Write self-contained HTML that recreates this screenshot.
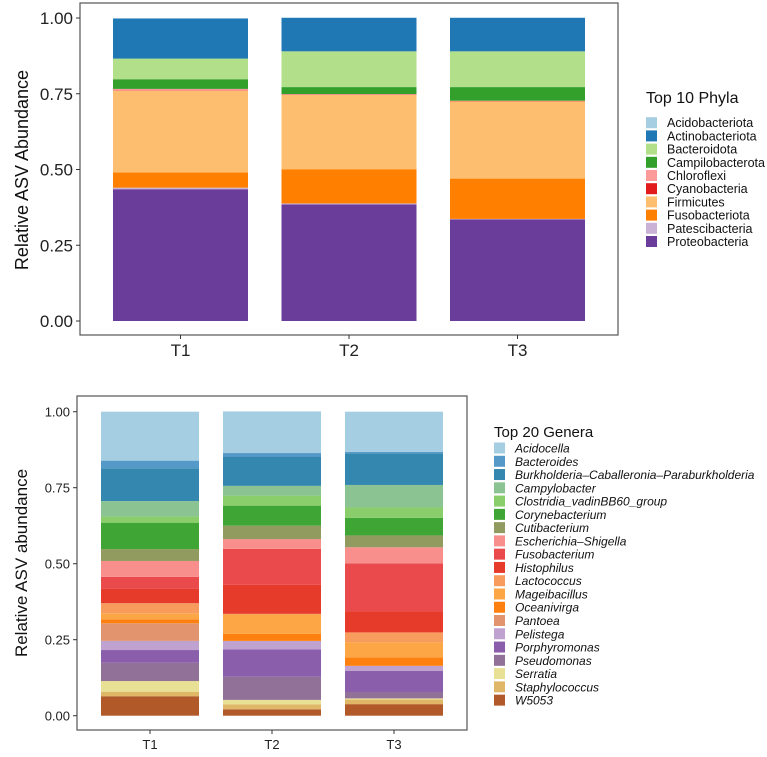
<!DOCTYPE html>
<html><head><meta charset="utf-8"><style>
body{margin:0;background:#fff;font-family:"Liberation Sans",sans-serif;}
svg text{font-family:"Liberation Sans",sans-serif;}
</style></head><body>
<svg id="c" width="767" height="752" xmlns="http://www.w3.org/2000/svg"></svg>
<script>
const samples=["T1","T2","T3"];
const phyla=["Acidobacteriota","Actinobacteriota","Bacteroidota","Campilobacterota","Chloroflexi","Cyanobacteria","Firmicutes","Fusobacteriota","Patescibacteria","Proteobacteria"];
const phylaColors=["#a6cee3","#1f78b4","#b2df8a","#33a02c","#fb9a99","#e31a1c","#fdbf6f","#ff7f00","#cab2d6","#6a3d9a"];
// values per sample (order matches phyla)
const phylaT1=[0.002,0.132,0.068,0.032,0.005,0.001,0.270,0.050,0.005,0.435];
const phylaT2=[0.002,0.110,0.118,0.023,0.002,0.001,0.245,0.113,0.003,0.385];
const phylaT3=[0.002,0.110,0.118,0.045,0.001,0.001,0.255,0.133,0.002,0.335];
const genera=["Acidocella","Bacteroides","Burkholderia\u2013Caballeronia\u2013Paraburkholderia","Campylobacter","Clostridia_vadinBB60_group","Corynebacterium","Cutibacterium","Escherichia\u2013Shigella","Fusobacterium","Histophilus","Lactococcus","Mageibacillus","Oceanivirga","Pantoea","Pelistega","Porphyromonas","Pseudomonas","Serratia","Staphylococcus","W5053"];
const generaColors=["#a6cee3","#5599c8","#3488b0","#8cc393","#8ace6b","#3fa535","#919b5f","#f88f8d","#ea4a4c","#e63b2b","#f89c5e","#fda645","#fe800f","#e2946f","#c0a2d1","#8a5eab","#927198","#e8e095","#dfb767","#b15928"];
const generaT1=[0.161,0.025,0.108,0.051,0.020,0.087,0.039,0.052,0.040,0.047,0.033,0.020,0.013,0.058,0.030,0.042,0.060,0.035,0.015,0.064];
const generaT2=[0.137,0.011,0.097,0.032,0.033,0.066,0.044,0.032,0.118,0.096,0.002,0.064,0.023,0.000,0.028,0.090,0.076,0.015,0.016,0.021];
const generaT3=[0.132,0.005,0.104,0.074,0.034,0.058,0.039,0.053,0.157,0.070,0.032,0.050,0.028,0.000,0.017,0.069,0.021,0.004,0.015,0.038];
const yTicks=[0,0.25,0.5,0.75,1];
const yTickLabels=["0.00","0.25","0.50","0.75","1.00"];

const NS="http://www.w3.org/2000/svg";
const svg=document.getElementById('c');
function mk(tag,attrs,parent){const e=document.createElementNS(NS,tag);for(const k in attrs)e.setAttribute(k,attrs[k]);(parent||svg).appendChild(e);return e;}

function panel(cfg){
  const g=mk('g',{});
  
  
  const y=v=>cfg.y0-(cfg.y0-cfg.y1)*v;
  const x=i=>cfg.xc0+i*cfg.step;
  cfg.data.forEach((vals,si)=>{
    let cum=0;
    for(let k=vals.length-1;k>=0;k--){
      const v=vals[k];
      const r=mk('rect',{x:x(si)-cfg.bw/2,y:y(cum+v),width:cfg.bw,height:Math.max(0,y(cum)-y(cum+v)),fill:cfg.colors[k]},g);
      
      
      cum+=v;
    }
  });
  const fr=mk('rect',{x:cfg.px0,y:cfg.py0,width:cfg.px1-cfg.px0,height:cfg.py1-cfg.py0,fill:'none',stroke:'#555','stroke-width':1.2},g);
  
  
  yTicks.forEach((t,i)=>{
    mk('line',{x1:cfg.px0-4,x2:cfg.px0,y1:y(t),y2:y(t),stroke:'#333'},g);
    const tx=mk('text',{x:cfg.px0-7,y:y(t)+cfg.fs*0.36,'text-anchor':'end','font-size':cfg.fs,fill:'#222'},g);
    tx.textContent=yTickLabels[i];
    
    
  });
  samples.forEach((s,i)=>{
    mk('line',{x1:x(i),x2:x(i),y1:cfg.py1,y2:cfg.py1+4,stroke:'#333'},g);
    const tx=mk('text',{x:x(i),y:cfg.py1+cfg.xly,'text-anchor':'middle','font-size':cfg.fs,fill:'#222'},g);
    tx.textContent=s;
    
    
  });
  const yt=mk('text',{x:0,y:0,transform:`translate(${cfg.ytx},${cfg.yty}) rotate(-90)`,'text-anchor':'middle','font-size':cfg.ytfs,fill:'#111'},g);
  yt.textContent=cfg.ytitle;
  
  
  const lg=mk('g',{},g);
  
  
  const lt=mk('text',{x:cfg.lx,y:cfg.ltY,'font-size':cfg.ltfs,fill:'#111'},lg);
  lt.textContent=cfg.ltitle;
  
  
  cfg.names.forEach((n,i)=>{
    const cy=cfg.ly0+i*cfg.lstep;
    const e=mk('g',{},lg);
    
    
    mk('rect',{x:cfg.lx,y:cy-5.5,width:11,height:11,fill:cfg.colors[i]},e);
    const t=mk('text',{x:cfg.lx+21,y:cy+4.5,'font-size':cfg.lfs,fill:'#111','font-style':cfg.italic?'italic':'normal'},e);
    t.textContent=n;
  });
}
panel({name:'phyla-panel',data:[phylaT1,phylaT2,phylaT3],colors:phylaColors,names:phyla,
  px0:80,px1:618,py0:3,py1:335,y0:321,y1:18,xc0:180.5,step:168.5,bw:135,fs:17,xly:21,
  ytx:28,yty:170,ytfs:18,ytitle:'Relative ASV Abundance',lx:646,ltY:103,ltitle:'Top 10 Phyla',ltfs:16,ly0:122.7,lstep:13.2,lfs:12.5,italic:false});
panel({name:'genera-panel',data:[generaT1,generaT2,generaT3],colors:generaColors,names:genera,
  px0:77,px1:467,py0:396,py1:730,y0:715.7,y1:411.7,xc0:150,step:122,bw:98,fs:13,xly:19,
  ytx:27,yty:563,ytfs:17,ytitle:'Relative ASV abundance',lx:494,ltY:437,ltitle:'Top 20 Genera',ltfs:15,ly0:448,lstep:13.27,lfs:12,italic:true});
</script>
</body></html>
